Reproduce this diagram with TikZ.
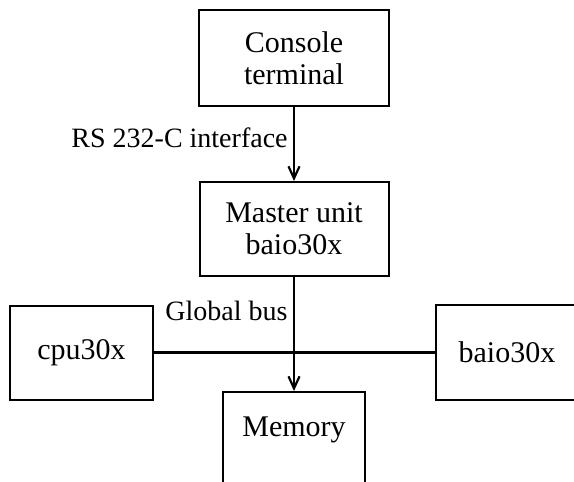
\documentclass[tikz,border=0pt]{standalone}
\usepackage{fontspec}
\setmainfont{Liberation Serif}
\usetikzlibrary{arrows.meta}
\begin{document}
\begin{tikzpicture}[x=0.5pt,y=-0.5pt,
  box/.style={draw,line width=1pt,inner sep=0pt,align=center,
    font=\fontsize{15}{16}\selectfont},
  lbl/.style={font=\fontsize{14}{16}\selectfont,inner sep=0pt},
  conn/.style={line width=1.1pt},
  arr/.style={conn,-{Straight Barb[length=6pt,width=5.5pt,line width=1.1pt]}}]
\useasboundingbox (0,0) rectangle (574,482);
\clip (0,0) rectangle (574,482);
\node[box,minimum width=95pt,minimum height=48pt] (console) at (294,58) {Console\\terminal};
\node[box,minimum width=94.5pt,minimum height=47pt] (master) at (294,229) {Master unit\\baio30x};
\node[box,minimum width=71.5pt,minimum height=47pt] (cpu) at (81.5,352.5) {cpu30x};
\node[box,minimum width=71pt,minimum height=47.5pt] (baio) at (507,352.5) {baio30x};
\node[box,minimum width=71pt,minimum height=60pt] (membox) at (294,452) {};
\node[box,draw=none,anchor=base] (memlbl) at (294,436) {Memory};
\node[lbl,anchor=base east] (rs) at (288,147) {RS 232-C interface};
\node[lbl,anchor=base east] (gb) at (288,320) {Global bus};
\draw[arr] (console.south) -- (master.north);
\draw[arr] (master.south) -- (membox.north);
\draw[conn] (cpu.east) -- (baio.west);
\end{tikzpicture}
\end{document}
